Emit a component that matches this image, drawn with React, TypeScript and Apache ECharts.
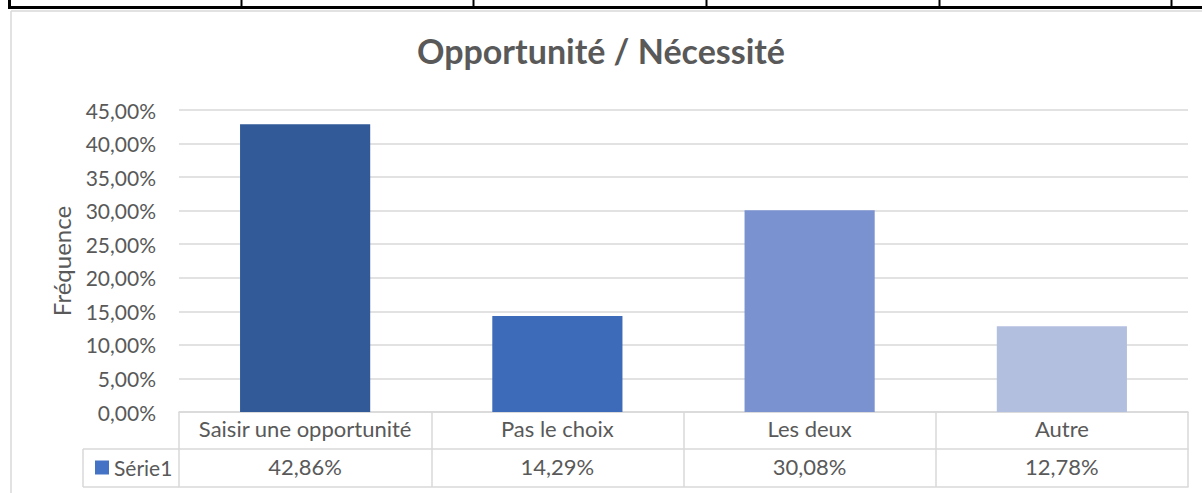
import React, { useEffect, useRef } from "react";
import * as echarts from "echarts";

const categories = ["Saisir une opportunité", "Pas le choix", "Les deux", "Autre"];
const values = [0.4286, 0.1429, 0.3008, 0.1278];
const barColors = ["#325A99", "#3E6BB9", "#7A93D0", "#B3BFDF"];
const seriesName = "Série1";
const titleText = "Opportunité / Nécessité";
const yAxisName = "Fréquence";

const fmtPct = (v: number) => (v * 100).toFixed(2).replace(".", ",") + "%";

const FONT = "Lato, 'Open Sans', sans-serif";
const TXT = "#595959";
const GRID = "#D9D9D9";

export default function App() {
  const ref = useRef<HTMLDivElement>(null);
  useEffect(() => {
    if (!ref.current) return;
    const chart = echarts.init(ref.current, null, { renderer: "svg" });
    const option: any = {
      animation: false,
      backgroundColor: "#ffffff",
      textStyle: { fontFamily: FONT, color: TXT },
      title: {
        text: titleText,
        left: "center",
        top: 28,
        textStyle: { fontFamily: FONT, fontSize: 34, fontWeight: "bold", color: TXT },
      },
      legend: {
        data: [seriesName],
        left: 90,
        top: 452,
        icon: "rect",
        itemWidth: 14,
        itemHeight: 14,
        itemGap: 6,
        textStyle: { fontFamily: FONT, fontSize: 21, color: TXT },
      },
      grid: { left: 179, right: 14, top: 110, bottom: 81 },
      xAxis: [
        {
          type: "category",
          data: categories,
          position: "bottom",
          axisLine: { show: true, lineStyle: { color: GRID, width: 1.5 } },
          axisTick: { show: true, length: 75, interval: 0, lineStyle: { color: GRID, width: 1.5 } },
          axisLabel: { margin: 5, fontSize: 22, color: TXT, fontFamily: FONT, interval: 0 },
        },
        {
          type: "category",
          data: values.map(fmtPct),
          position: "bottom",
          offset: 37,
          axisLine: { show: true, lineStyle: { color: GRID, width: 1.5 } },
          axisTick: { show: false },
          axisLabel: { margin: 6, fontSize: 22, color: TXT, fontFamily: FONT, interval: 0 },
        },
        {
          type: "category",
          data: categories,
          position: "bottom",
          offset: 75,
          axisLine: { show: true, lineStyle: { color: GRID, width: 1.5 } },
          axisTick: { show: false },
          axisLabel: { show: false },
        },
      ],
      yAxis: {
        type: "value",
        min: 0,
        max: 0.45,
        interval: 0.05,
        name: yAxisName,
        nameLocation: "middle",
        nameGap: 106,
        nameTextStyle: { fontFamily: FONT, fontSize: 24, color: TXT },
        axisLine: { show: false },
        axisTick: { show: false },
        splitLine: { lineStyle: { color: GRID, width: 1.5 } },
        axisLabel: { margin: 23, fontSize: 21, color: TXT, fontFamily: FONT, formatter: (v: number) => fmtPct(v) },
      },
      series: [
        {
          name: seriesName,
          type: "bar",
          xAxisIndex: 0,
          barWidth: "51.6%",
          itemStyle: { color: "#4472C4" },
          data: values.map((v, i) => ({ value: v, itemStyle: { color: barColors[i] } })),
        },
      ],
      graphic: [
        { type: "line", shape: { x1: 11, y1: 11, x2: 1202, y2: 11 }, style: { stroke: GRID, lineWidth: 1.5 } },
        { type: "line", shape: { x1: 11, y1: 11, x2: 11, y2: 493 }, style: { stroke: GRID, lineWidth: 1.5 } },
        { type: "line", shape: { x1: 83, y1: 449, x2: 179, y2: 449 }, style: { stroke: GRID, lineWidth: 1.5 } },
        { type: "line", shape: { x1: 83, y1: 487, x2: 179, y2: 487 }, style: { stroke: GRID, lineWidth: 1.5 } },
        { type: "line", shape: { x1: 83, y1: 449, x2: 83, y2: 487 }, style: { stroke: GRID, lineWidth: 1.5 } },
        { type: "rect", shape: { x: 8, y: 6, width: 1194, height: 3 }, style: { fill: "#000" } },
        { type: "rect", shape: { x: 8, y: 0, width: 3, height: 9 }, style: { fill: "#000" } },
        { type: "rect", shape: { x: 240.5, y: 0, width: 2, height: 9 }, style: { fill: "#000" } },
        { type: "rect", shape: { x: 472.5, y: 0, width: 2, height: 9 }, style: { fill: "#000" } },
        { type: "rect", shape: { x: 705.5, y: 0, width: 2, height: 9 }, style: { fill: "#000" } },
        { type: "rect", shape: { x: 938.5, y: 0, width: 2, height: 9 }, style: { fill: "#000" } },
        { type: "rect", shape: { x: 1170.5, y: 0, width: 2, height: 9 }, style: { fill: "#000" } },
      ],
    };
    chart.setOption(option);
    return () => chart.dispose();
  }, []);
  return (
    <div
      ref={ref}
      style={{ position: "fixed", left: 0, top: 0, width: 1202, height: 493 }}
    />
  );
}
